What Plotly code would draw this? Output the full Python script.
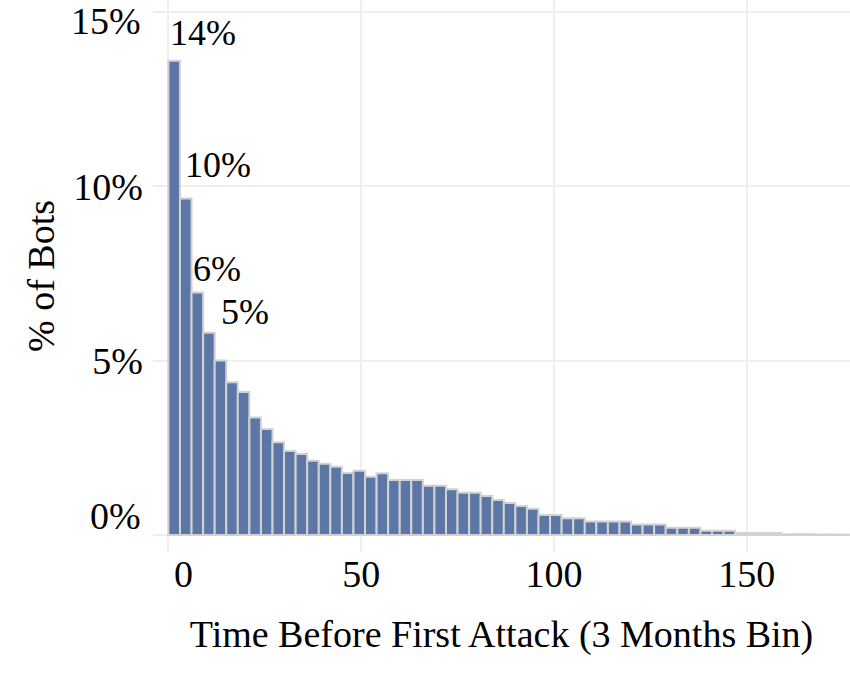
import plotly.graph_objects as go

# Histogram bins: 3-unit bins starting at 0
bin_width = 3
bin_starts = [i * bin_width for i in range(59)]
pct_bots = [
    13.6, 9.65, 6.95, 5.8, 5.0, 4.38, 4.1, 3.37, 3.04, 2.66,
    2.41, 2.32, 2.13, 2.04, 1.96, 1.78, 1.84, 1.67, 1.77, 1.58,
    1.58, 1.58, 1.41, 1.41, 1.31, 1.21, 1.21, 1.12, 1.0, 0.92,
    0.83, 0.75, 0.57, 0.57, 0.48, 0.48, 0.39, 0.39, 0.39, 0.39,
    0.30, 0.30, 0.30, 0.21, 0.21, 0.21, 0.12, 0.12, 0.12, 0.06,
    0.06, 0.06, 0.06, 0.02, 0.02, 0.02, 0.015, 0.015, 0.01,
]
bar_centers = [s + bin_width / 2 for s in bin_starts]

label_texts = ["14%", "10%", "6%", "5%"]
label_x = [9.0, 12.8, 12.6, 19.9]
label_y = [14.39, 10.6, 7.64, 6.39]

x_tickvals = [0, 50, 100, 150]
x_ticktext = ["", "50", "100", "150"]
y_tickvals = [0, 5, 10, 15]
y_ticktext = ["", "5%", "10%", ""]

FONT = "Liberation Serif"
FS = 38

fig = go.Figure()
fig.add_trace(go.Bar(
    x=bar_centers, y=pct_bots, width=bin_width,
    marker=dict(color="#5c77a6", line=dict(color="#d2d2d2", width=2)),
    hoverinfo="skip",
))

for t, x, y in zip(label_texts, label_x, label_y):
    fig.add_annotation(x=x, y=y, text=t, showarrow=False,
                       font=dict(family=FONT, size=36, color="black"),
                       xanchor="center", yanchor="middle")

# End tick labels, nudged inward as in the original
fig.add_annotation(x=4.0, y=0, yref="paper", text="0", showarrow=False,
                   font=dict(family=FONT, size=FS, color="black"),
                   xanchor="center", yanchor="top", yshift=1)
fig.add_annotation(x=0, xref="paper", y=0.545, text="0%", showarrow=False,
                   font=dict(family=FONT, size=FS, color="black"),
                   xanchor="right", yanchor="middle", xshift=-10)
fig.add_annotation(x=0, xref="paper", y=1, yref="paper", text="15%",
                   showarrow=False,
                   font=dict(family=FONT, size=FS, color="black"),
                   xanchor="right", yanchor="top", xshift=-10, yshift=2)

fig.update_layout(
    width=850, height=683,
    margin=dict(l=153, r=0, t=0, b=131),
    plot_bgcolor="white", paper_bgcolor="white",
    showlegend=False,
    font=dict(family=FONT, size=FS, color="black"),
    xaxis=dict(
        range=[-4, 176.8], tickvals=x_tickvals, ticktext=x_ticktext,
        showgrid=True, gridcolor="#efefef", gridwidth=2, zeroline=False,
        showline=False, ticks="", ticklabelstandoff=-4, automargin=False,
        tickfont=dict(family=FONT, size=FS, color="black"),
        title=dict(text="Time Before First Attack (3 Months Bin)",
                   font=dict(family=FONT, size=FS, color="black"), standoff=26),
    ),
    yaxis=dict(
        range=[-0.488, 15.34], tickvals=y_tickvals, ticktext=y_ticktext,
        showgrid=True, gridcolor="#efefef", gridwidth=2, zeroline=False,
        showline=False, ticks="", ticklabelstandoff=9, automargin=False,
        ticklabeloverflow="allow",
        tickfont=dict(family=FONT, size=FS, color="black"),
        title=dict(text="% of Bots",
                   font=dict(family=FONT, size=FS, color="black"), standoff=7),
    ),
)

fig.write_html("out.html", config={"displayModeBar": False},
               post_script="document.body.style.margin='0';")
